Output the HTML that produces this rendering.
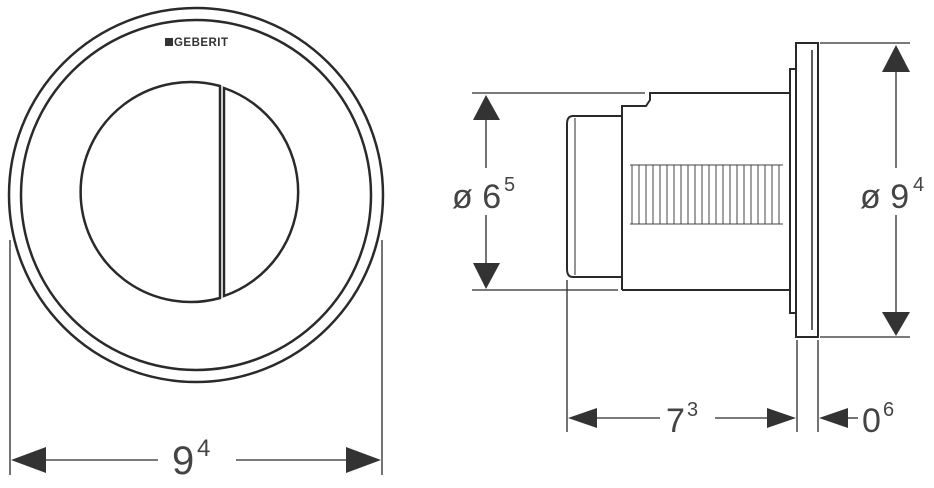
<!DOCTYPE html>
<html><head><style>html,body{margin:0;padding:0;background:#fff}</style></head>
<body>
<svg width="934" height="483" viewBox="0 0 934 483" xmlns="http://www.w3.org/2000/svg" font-family="Liberation Sans, sans-serif">
<g fill="none" stroke="#2a2a2a">
<circle cx="196" cy="195" r="187" stroke-width="2.5"/>
<circle cx="196" cy="195" r="175" stroke-width="2.5"/>
<path d="M220,86 A110,110 0 1,0 220,298 Z" stroke-width="2.5"/>
<path d="M224,88 A110,110 0 0,1 224,296 Z" stroke-width="2.5"/>
<line x1="10" y1="240" x2="10" y2="475" stroke-width="1.3"/>
<line x1="382" y1="240" x2="382" y2="475" stroke-width="1.3"/>
<line x1="40" y1="460" x2="158" y2="460" stroke-width="1.3"/>
<line x1="236" y1="460" x2="350" y2="460" stroke-width="1.3"/>
</g>
<g fill="#333">
<polygon points="11,460 46,447 46,473"/>
<polygon points="381,460 346,447 346,473"/>
<rect x="165" y="38" width="8" height="8"/>
</g>
<text x="174" y="46" font-size="11.5" font-weight="bold" fill="#333" textLength="54">GEBERIT</text>
<text x="172" y="474" font-size="40" fill="#444">9</text>
<text x="197" y="456" font-size="24" fill="#444">4</text>

<g fill="none" stroke="#2a2a2a" stroke-width="2">
<path d="M622,116 L573,116 Q567,116 567,124 L567,269 Q567,277 573,277 L622,277"/>
<line x1="575" y1="118" x2="575" y2="275" stroke-width="1"/>
<path d="M622,290 L622,106 L646,106 L650,100 L650,93 L790,93 M790,290 L622,290"/>
<rect x="790" y="69" width="6" height="244"/>
<rect x="796" y="43" width="22" height="294"/>
<line x1="812" y1="50" x2="812" y2="330" stroke-width="1.5"/>
</g>
<g stroke="#444" stroke-width="1" fill="none">
<path d="M630,165 L783,165 M630,224 L783,224"/>
<path d="M632,165 L632,224 M639,165 L639,224 M646,165 L646,224 M653,165 L653,224 M660,165 L660,224 M667,165 L667,224 M674,165 L674,224 M681,165 L681,224 M688,165 L688,224 M695,165 L695,224 M702,165 L702,224 M709,165 L709,224 M716,165 L716,224 M723,165 L723,224 M730,165 L730,224 M737,165 L737,224 M744,165 L744,224 M751,165 L751,224 M758,165 L758,224 M765,165 L765,224 M772,165 L772,224 M779,165 L779,224"/>
</g>
<g stroke="#2a2a2a" stroke-width="1.3" fill="none">
<line x1="472" y1="93" x2="645" y2="93"/>
<line x1="472" y1="290" x2="618" y2="290"/>
<line x1="486" y1="118" x2="486" y2="168"/>
<line x1="486" y1="215" x2="486" y2="266"/>
<line x1="820" y1="43" x2="910" y2="43"/>
<line x1="820" y1="337" x2="910" y2="337"/>
<line x1="896" y1="70" x2="896" y2="168"/>
<line x1="896" y1="215" x2="896" y2="315"/>
<line x1="567" y1="280" x2="567" y2="432"/>
<line x1="797" y1="340" x2="797" y2="432"/>
<line x1="818" y1="340" x2="818" y2="432"/>
<line x1="595" y1="418" x2="660" y2="418"/>
<line x1="715" y1="418" x2="770" y2="418"/>
<line x1="845" y1="418" x2="858" y2="418"/>
</g>
<g fill="#333">
<polygon points="486,95 473,120 500,120"/>
<polygon points="486,289 473,263 500,263"/>
<polygon points="896,45 882,72 910,72"/>
<polygon points="896,336 882,312 910,312"/>
<polygon points="568,418 597,408 597,428"/>
<polygon points="796,418 767,408 767,428"/>
<polygon points="819,418 848,408 848,428"/>
</g>
<g fill="#444">
<text x="452" y="208" font-size="34">ø 6</text>
<text x="504" y="191" font-size="20">5</text>
<text x="860" y="208" font-size="34">ø 9</text>
<text x="913" y="191" font-size="20">4</text>
<text x="666" y="432" font-size="34">7</text>
<text x="687" y="416" font-size="20">3</text>
<text x="862" y="432" font-size="34">0</text>
<text x="883" y="416" font-size="20">6</text>
</g>
</svg>
</body></html>
